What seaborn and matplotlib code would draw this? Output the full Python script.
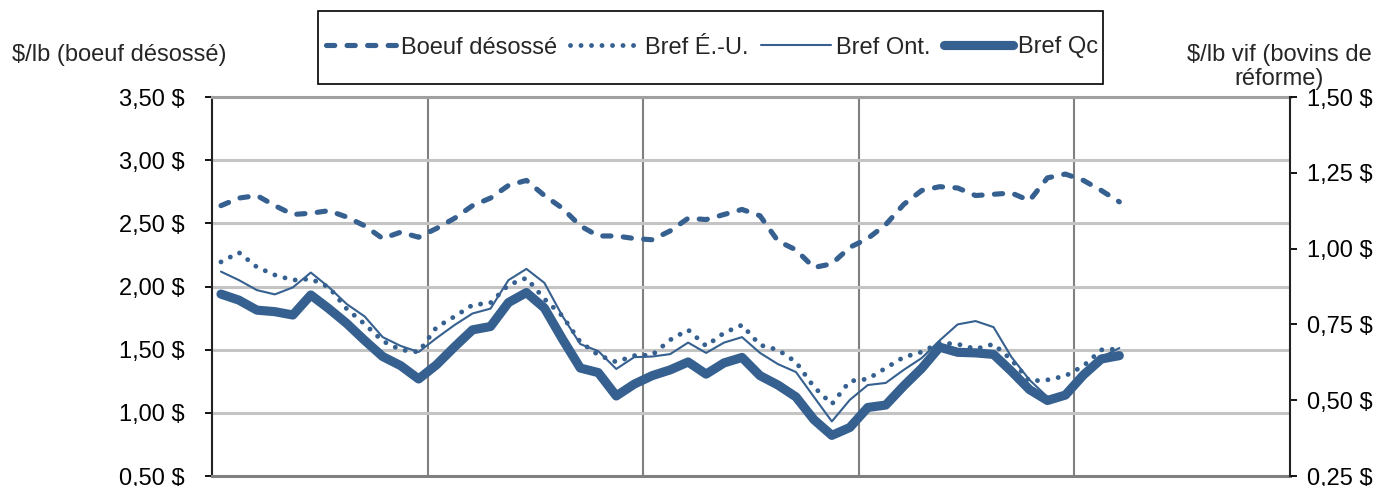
import numpy as np
import pandas as pd
import matplotlib
matplotlib.use("Agg")
import matplotlib.pyplot as plt
import seaborn as sns
from matplotlib.patches import Rectangle
from matplotlib.ticker import FixedLocator, FuncFormatter

# ---------------- data (monthly index) ----------------
months = list(range(51))

boeuf_desosse = [2.64, 2.70, 2.72, 2.64, 2.57, 2.58, 2.60, 2.55, 2.48, 2.38,
                 2.43, 2.39, 2.46, 2.54, 2.64, 2.70, 2.80, 2.84, 2.72, 2.62,
                 2.48, 2.40, 2.40, 2.38, 2.37, 2.44, 2.54, 2.53, 2.57, 2.61,
                 2.56, 2.36, 2.29, 2.15, 2.18, 2.31, 2.38, 2.49, 2.65, 2.76,
                 2.79, 2.78, 2.72, 2.73, 2.74, 2.68, 2.86, 2.89, 2.84, 2.76,
                 2.67]

bref_eu = [0.956, 0.987, 0.939, 0.913, 0.896, 0.900, 0.873, 0.801, 0.751, 0.695,
           0.666, 0.659, 0.741, 0.776, 0.814, 0.821, 0.880, 0.903, 0.834, 0.778,
           0.692, 0.649, 0.626, 0.647, 0.649, 0.699, 0.732, 0.679, 0.722, 0.748,
           0.682, 0.666, 0.626, 0.544, 0.487, 0.563, 0.570, 0.606, 0.642, 0.659,
           0.689, 0.685, 0.669, 0.685, 0.633, 0.563, 0.567, 0.580, 0.613, 0.666,
           0.669]

bref_ont = [0.924, 0.896, 0.863, 0.849, 0.872, 0.921, 0.873, 0.817, 0.776, 0.708,
            0.679, 0.659, 0.705, 0.748, 0.786, 0.802, 0.896, 0.933, 0.887, 0.778,
            0.685, 0.662, 0.603, 0.642, 0.644, 0.652, 0.690, 0.656, 0.690, 0.708,
            0.656, 0.619, 0.593, 0.511, 0.430, 0.501, 0.550, 0.557, 0.600, 0.639,
            0.697, 0.750, 0.761, 0.741, 0.642, 0.567, 0.511, 0.524, 0.573, 0.642,
            0.672]

bref_qc = [0.850, 0.830, 0.797, 0.792, 0.781, 0.847, 0.802, 0.753, 0.697, 0.644,
           0.614, 0.570, 0.617, 0.676, 0.732, 0.743, 0.822, 0.855, 0.804, 0.702,
           0.606, 0.591, 0.514, 0.553, 0.581, 0.600, 0.626, 0.586, 0.623, 0.641,
           0.581, 0.550, 0.511, 0.436, 0.384, 0.410, 0.476, 0.484, 0.547, 0.605,
           0.675, 0.658, 0.656, 0.651, 0.595, 0.535, 0.499, 0.517, 0.583, 0.636,
           0.647]

series_labels = ["Boeuf désossé", "Bref É.-U.", "Bref Ont.", "Bref Qc"]
left_ticks = [0.50, 1.00, 1.50, 2.00, 2.50, 3.00, 3.50]
right_ticks = [0.25, 0.50, 0.75, 1.00, 1.25, 1.50]
year_breaks = [11.5, 23.5, 35.5, 47.5]
left_title = "$/lb (boeuf désossé)"
right_title = "$/lb vif (bovins de\nréforme)"

# ---------------- style ----------------
sns.set_style("white")
plt.rcParams['font.family'] = ['Liberation Sans', 'DejaVu Sans']
FS = 17
plt.rcParams['font.size'] = FS

COLOR = "#36608F"
W, H = 1379, 486

fig = plt.figure(figsize=(W / 100, H / 100), dpi=100)
ax = fig.add_axes([212 / W, 10 / H, (1290 - 212) / W, (476 - 97) / H])
ax2 = ax.twinx()

sns.lineplot(x=months, y=boeuf_desosse, ax=ax, color=COLOR, linewidth=3.7,
             linestyle=(0, (1.6, 2.4)), dash_capstyle='round', legend=False)
h1 = ax.lines[-1]
sns.lineplot(x=months, y=bref_eu, ax=ax2, color=COLOR, linewidth=3.5,
             linestyle=(0, (0.01, 2.15)), dash_capstyle='round', legend=False)
h2 = ax2.lines[-1]
sns.lineplot(x=months, y=bref_ont, ax=ax2, color=COLOR, linewidth=1.5,
             solid_capstyle='round', solid_joinstyle='round', legend=False)
h3 = ax2.lines[-1]
sns.lineplot(x=months, y=bref_qc, ax=ax2, color=COLOR, linewidth=6.6,
             solid_capstyle='round', solid_joinstyle='round', legend=False)
h4 = ax2.lines[-1]

# ---------------- axes ----------------
ax.set_xlim(-0.5, 59.5)
ax.set_ylim(0.5, 3.5)
ax2.set_ylim(0.25, 1.5)

fmt = FuncFormatter(lambda v, p: f"{v:.2f} $".replace(".", ","))
ax.yaxis.set_major_locator(FixedLocator(left_ticks))
ax.yaxis.set_major_formatter(fmt)
ax2.yaxis.set_major_locator(FixedLocator(right_ticks))
ax2.yaxis.set_major_formatter(fmt)

ax.set_xticks(year_breaks)
ax.tick_params(axis='x', bottom=False, labelbottom=False, length=0)
ax.xaxis.grid(True, color='#808080', linewidth=1.5)
ax.yaxis.grid(True, color='#c4c4c4', linewidth=2.2)
ax.set_axisbelow(True)
ax2.grid(False)
ax.set_xlabel("")
ax.set_ylabel("")
ax2.set_ylabel("")

ax.tick_params(axis='y', left=True, direction='out', length=5, width=1.3,
               color='black', pad=15, labelsize=FS, labelcolor='black')
ax2.tick_params(axis='y', right=True, direction='out', length=5, width=1.3,
                color='black', pad=7, labelsize=FS, labelcolor='black')

ax.spines['left'].set_color('#222222')
ax.spines['left'].set_linewidth(1.5)
ax.spines['bottom'].set_color('#808080')
ax.spines['bottom'].set_linewidth(2.2)
ax.spines['top'].set_color('#a0a0a0')
ax.spines['top'].set_linewidth(2.2)
ax.spines['right'].set_visible(False)
for s in ['left', 'top', 'bottom']:
    ax2.spines[s].set_visible(False)
ax2.spines['right'].set_visible(True)
ax2.spines['right'].set_color('#222222')
ax2.spines['right'].set_linewidth(1.5)

# ---------------- legend ----------------
fig.legend([h1, h2, h3, h4], series_labels, loc='center left',
           bbox_to_anchor=(326 / W, 1 - 47.5 / H), ncol=4, frameon=False,
           handlelength=2.95, handletextpad=0.22, columnspacing=0.55,
           fontsize=FS, borderpad=0, borderaxespad=0)
fig.add_artist(Rectangle((318 / W, 1 - 84 / H), (1103 - 318) / W, 73 / H,
                         transform=fig.transFigure, fill=False,
                         edgecolor='black', linewidth=1.2))

# ---------------- axis titles ----------------
fig.text(12 / W, 1 - 55 / H, left_title, ha='left', va='center',
         fontsize=FS, parse_math=False)
fig.text(1279 / W, 1 - 67 / H, right_title, ha='center', va='center',
         fontsize=FS, linespacing=1.08, parse_math=False)

fig.savefig("out.png", dpi=100)
